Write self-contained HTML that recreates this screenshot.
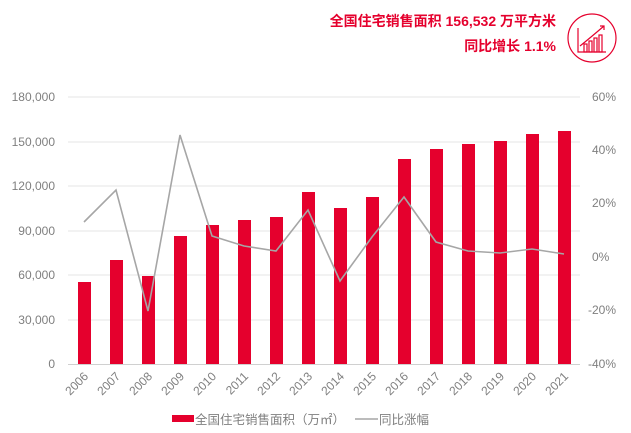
<!DOCTYPE html>
<html><head><meta charset="utf-8"><style>
body{margin:0;background:#fff;width:631px;height:433px;overflow:hidden}
svg{display:block}
text{font-family:"Liberation Sans","Noto Sans CJK SC",sans-serif}
</style></head><body>
<svg width="631" height="433" viewBox="0 0 631 433">
<text x="556" y="26" text-anchor="end" font-size="14" font-weight="bold" fill="#e5002d">全国住宅销售面积 156,532 万平方米</text>
<text x="556" y="51" text-anchor="end" font-size="14" font-weight="bold" fill="#e5002d">同比增长 1.1%</text>
<g stroke="#e5002d" fill="none" stroke-width="1.2">
<circle cx="592" cy="38" r="24"/>
<path d="M578 28 V52 H606"/>
<path d="M580 46 Q590 38 604 26"/><path d="M600 26 H604 V30"/>
<rect x="584" y="44" width="3" height="8"/><rect x="589" y="41" width="3" height="11"/><rect x="594" y="38" width="3" height="14"/><rect x="599" y="35" width="3" height="17"/>
</g>
<g stroke="#e6e6e6" stroke-width="1">
<line x1="68" y1="97" x2="580" y2="97"/><line x1="68" y1="142" x2="580" y2="142"/><line x1="68" y1="186" x2="580" y2="186"/><line x1="68" y1="231" x2="580" y2="231"/><line x1="68" y1="275" x2="580" y2="275"/><line x1="68" y1="320" x2="580" y2="320"/><line x1="68" y1="364.5" x2="580" y2="364.5" stroke="#d0d0d0"/>
</g>
<g font-size="12" fill="#7f7f7f" text-anchor="end">
<text x="55" y="101">180,000</text><text x="55" y="146">150,000</text><text x="55" y="190">120,000</text><text x="55" y="235">90,000</text><text x="55" y="279">60,000</text><text x="55" y="324">30,000</text><text x="55" y="368">0</text>
</g>
<g font-size="12" fill="#7f7f7f">
<text x="592" y="101">60%</text><text x="592" y="207">20%</text><text x="592" y="154">40%</text><text x="592" y="261">0%</text><text x="588" y="314">-20%</text><text x="588" y="368">-40%</text>
</g>
<g fill="#e5002d">
<rect x="78" y="282" width="13" height="82"/><rect x="110" y="260" width="13" height="104"/><rect x="142" y="276" width="13" height="88"/><rect x="174" y="236" width="13" height="128"/><rect x="206" y="225" width="13" height="139"/><rect x="238" y="220" width="13" height="144"/><rect x="270" y="217" width="13" height="147"/><rect x="302" y="192" width="13" height="172"/><rect x="334" y="208" width="13" height="156"/><rect x="366" y="197" width="13" height="167"/><rect x="398" y="159" width="13" height="205"/><rect x="430" y="149" width="13" height="215"/><rect x="462" y="144" width="13" height="220"/><rect x="494" y="141" width="13" height="223"/><rect x="526" y="134" width="13" height="230"/><rect x="558" y="131" width="13" height="233"/>
</g>
<polyline fill="none" stroke="#a6a6a6" stroke-width="1.6" points="84,222 116,190 148,311 180,135 212,236 244,246 276,251 308,210 340,281 372,237 404,197 436,242 468,251 500,253 532,249 564,254"/>
<g font-size="12" fill="#7f7f7f" text-anchor="end">
<text transform="translate(89,377) rotate(-45)">2006</text><text transform="translate(121,377) rotate(-45)">2007</text><text transform="translate(153,377) rotate(-45)">2008</text><text transform="translate(185,377) rotate(-45)">2009</text><text transform="translate(217,377) rotate(-45)">2010</text><text transform="translate(249,377) rotate(-45)">2011</text><text transform="translate(281,377) rotate(-45)">2012</text><text transform="translate(313,377) rotate(-45)">2013</text><text transform="translate(345,377) rotate(-45)">2014</text><text transform="translate(377,377) rotate(-45)">2015</text><text transform="translate(409,377) rotate(-45)">2016</text><text transform="translate(441,377) rotate(-45)">2017</text><text transform="translate(473,377) rotate(-45)">2018</text><text transform="translate(505,377) rotate(-45)">2019</text><text transform="translate(537,377) rotate(-45)">2020</text><text transform="translate(569,377) rotate(-45)">2021</text>
</g>
<rect x="172" y="415" width="22" height="7" fill="#e5002d"/>
<text x="195" y="424" font-size="12.5" fill="#7f7f7f">全国住宅销售面积（万㎡）</text>
<line x1="355" y1="419" x2="378" y2="419" stroke="#a6a6a6" stroke-width="1.6"/>
<text x="379" y="424" font-size="12.5" fill="#7f7f7f">同比涨幅</text>
</svg>
</body></html>
